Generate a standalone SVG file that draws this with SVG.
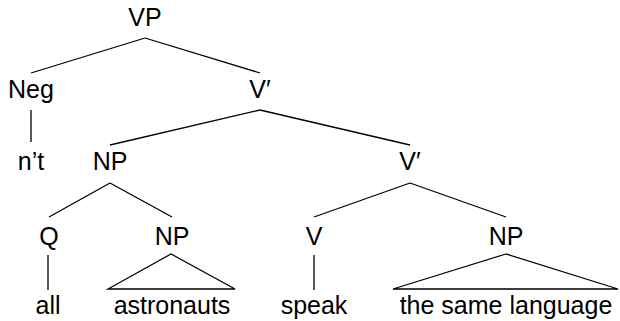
<svg xmlns="http://www.w3.org/2000/svg" width="620" height="321" viewBox="0 0 620 321">
<style>
text{font-family:"Liberation Sans",Arial,sans-serif;font-size:25px;fill:#000;text-anchor:middle}
.e line,.e polygon{stroke:#000;stroke-width:1.3;fill:none}
</style>
<rect width="620" height="321" fill="#fff"/>
<g class="e" id="connectors">
<line x1="145" y1="38" x2="31" y2="73"/>
<line x1="145" y1="38" x2="260" y2="73"/>
<line x1="31" y1="110" x2="31" y2="142"/>
<line x1="260" y1="110" x2="110" y2="145"/>
<line x1="260" y1="110" x2="410" y2="145"/>
<line x1="110" y1="183" x2="49" y2="217"/>
<line x1="110" y1="183" x2="172" y2="217"/>
<line x1="410" y1="183" x2="314" y2="217"/>
<line x1="410" y1="183" x2="506" y2="217"/>
<line x1="48" y1="255" x2="48" y2="290"/>
<line x1="314" y1="255" x2="314" y2="290"/>
<polygon points="171,254 108,289 235,289"/>
<polygon points="506,254 393,289 618,289"/>
</g>
<g id="vp"><text x="145" y="26">VP</text></g>
<g id="neg"><text x="31" y="98">Neg</text></g>
<g id="vbar1"><text x="260" y="98">V′</text></g>
<g id="nt"><text x="31" y="170">n’t</text></g>
<g id="np1"><text x="110" y="170">NP</text></g>
<g id="vbar2"><text x="410" y="170">V′</text></g>
<g id="q"><text x="49" y="245">Q</text></g>
<g id="np2"><text x="172" y="245">NP</text></g>
<g id="v"><text x="314" y="245">V</text></g>
<g id="np3"><text x="506" y="245">NP</text></g>
<g id="all"><text x="48" y="314">all</text></g>
<g id="astronauts"><text x="172" y="314">astronauts</text></g>
<g id="speak"><text x="314" y="314">speak</text></g>
<g id="lang"><text x="506" y="314">the same language</text></g>
</svg>
